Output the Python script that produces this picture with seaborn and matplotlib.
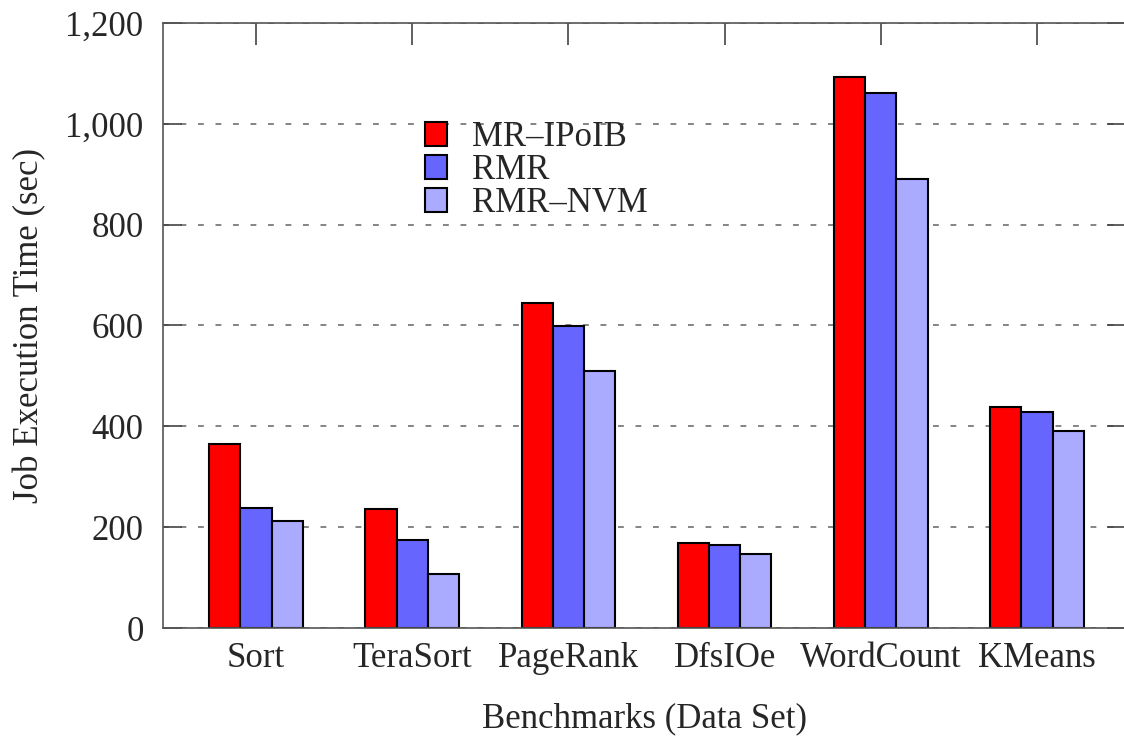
import numpy as np
import pandas as pd
import seaborn as sns
import matplotlib.pyplot as plt
from matplotlib.ticker import FuncFormatter

sns.set_theme(style="ticks")
plt.rcParams['font.family'] = ['Liberation Serif', 'DejaVu Serif']

benchmarks = ['Sort', 'TeraSort', 'PageRank', 'DfsIOe', 'WordCount', 'KMeans']
mr_ipoib = [364, 236, 645, 168, 1092, 439]
rmr = [238, 175, 599, 165, 1061, 429]
rmr_nvm = [212, 107, 510, 146, 891, 390]
series = ['MR\u2013IPoIB', 'RMR', 'RMR\u2013NVM']
colors = ['#ff0000', '#6666ff', '#aaaaff']

df = pd.DataFrame({'Benchmark': benchmarks * 3,
                   'System': np.repeat(series, len(benchmarks)),
                   'Time': mr_ipoib + rmr + rmr_nvm})

fig = plt.figure(figsize=(11.24, 7.36), dpi=100)
ax = fig.add_axes([0.145, 0.1467, 0.8568, 0.8221])
ax.set_axisbelow(True)

sns.barplot(data=df, x='Benchmark', y='Time', hue='System', order=benchmarks,
            hue_order=series, palette=colors, width=0.6, dodge=True,
            edgecolor='black', linewidth=1.5, saturation=1, errorbar=None, ax=ax)

ax.set_xlim(-0.596, 5.57)
ax.set_ylim(0, 1200)
ax.set_yticks(range(0, 1201, 200))
ax.yaxis.set_major_formatter(FuncFormatter(lambda v, p: f'{int(v):,}'))
ax.yaxis.grid(True, color='#707070', linestyle=(0, (3.5, 7)), linewidth=1.2)

for s in ax.spines.values():
    s.set_visible(True)
    s.set_color('#555555')
    s.set_linewidth(1.2)

ax.tick_params(axis='x', direction='in', top=True, bottom=True, length=16,
               width=1.2, color='#444444', labelsize=25, pad=10)
ax.tick_params(axis='y', direction='in', left=True, right=True, length=14,
               width=1.2, color='#444444', labelsize=25, pad=14)

ax.set_xlabel('Benchmarks (Data Set)', fontsize=25, labelpad=20)
ax.set_ylabel('Job Execution Time (sec)', fontsize=25, labelpad=14)

handles, labels = ax.get_legend_handles_labels()
ax.legend(handles, labels, loc='upper left', bbox_to_anchor=(0.3625, 0.859),
          bbox_transform=fig.transFigure, frameon=False, fontsize=25,
          handlelength=0.65, handleheight=0.65, handletextpad=0.7,
          labelspacing=0.0, borderpad=0)

fig.savefig('out.png', dpi=100)
